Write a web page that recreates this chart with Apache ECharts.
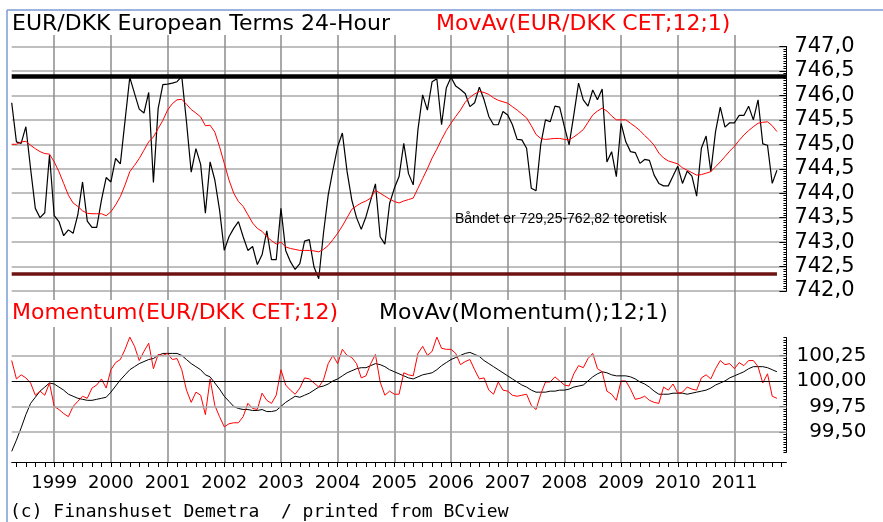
<!DOCTYPE html>
<html>
<head>
<meta charset="utf-8">
<script src="https://cdn.jsdelivr.net/npm/echarts@6.0.0/dist/echarts.min.js"></script>
<style>
  html, body { margin: 0; padding: 0; background: #fff; }
  #chart { width: 883px; height: 522px; }
</style>
</head>
<body>
<div id="chart"></div>
<script>
// monthly closes, Apr 1998 .. Oct 2011
const price = [
  745.85, 745.05, 745.02, 745.36, 744.5, 743.69, 743.5, 743.6, 744.78, 743.54,
  743.42, 743.13, 743.25, 743.18, 743.56, 744.23, 743.43, 743.3, 743.3, 743.86,
  744.32, 744.23, 744.71, 744.6, 745.49, 746.37, 746.04, 745.72, 745.64, 746.06,
  744.22, 745.73, 746.22, 746.23, 746.25, 746.28, 746.39, 745.46, 744.43, 744.91,
  744.59, 743.59, 744.64, 744.27, 743.66, 742.83, 743.11, 743.28, 743.42, 743.11,
  742.83, 742.91, 742.54, 742.74, 743.23, 742.64, 742.64, 743.69, 742.83, 742.6,
  742.44, 742.56, 743.02, 743.05, 742.49, 742.25, 743.18, 743.96, 744.47, 744.95,
  745.23, 744.44, 743.86, 743.5, 743.26, 743.52, 743.86, 744.19, 743.11, 742.96,
  743.79, 744.1, 744.34, 745.02, 744.4, 744.17, 745.3, 746.01, 745.7, 746.28,
  746.34, 745.4, 746.15, 746.37, 746.19, 746.12, 746.04, 745.77, 745.85, 746.17,
  745.91, 745.57, 745.4, 745.4, 745.67, 745.6, 745.4, 745.1, 745.09, 744.92,
  744.1, 744.05, 745.0, 745.5, 745.46, 745.78, 745.76, 745.36, 744.99, 745.6,
  746.25, 745.91, 745.78, 746.11, 745.91, 746.13, 744.64, 744.85, 744.34, 745.43,
  745.05, 744.85, 744.83, 744.61, 744.69, 744.67, 744.37, 744.2, 744.15, 744.15,
  744.35, 744.55, 744.2, 744.45, 744.35, 743.94, 744.92, 745.17, 744.44, 745.26,
  745.76, 745.35, 745.44, 745.44, 745.59, 745.59, 745.78, 745.5, 745.91, 745.01,
  744.98, 744.2, 744.47
];
// MovAv(EUR/DKK CET;12;1)
const priceAvg = [
  745.0, 745.0, 745.05, 745.06, 744.98, 744.91, 744.85, 744.81, 744.8, 744.64,
  744.44, 744.2, 743.96, 743.8, 743.73, 743.64, 743.59, 743.58, 743.58, 743.58,
  743.54, 743.62, 743.76, 743.93, 744.17, 744.44, 744.57, 744.71, 744.88, 745.05,
  745.15, 745.32, 745.49, 745.7, 745.83, 745.91, 745.92, 745.82, 745.71, 745.64,
  745.56, 745.38, 745.39, 745.25, 744.95, 744.61, 744.27, 744.0, 743.83, 743.73,
  743.56, 743.39, 743.28, 743.22, 743.11, 743.03, 742.96, 743.0, 742.9, 742.87,
  742.85, 742.83, 742.83, 742.83, 742.82, 742.8, 742.85, 742.93, 743.05, 743.18,
  743.33, 743.5, 743.67, 743.74, 743.8, 743.84, 743.9, 744.06, 744.0, 743.94,
  743.88, 743.83, 743.8, 743.84, 743.87, 743.9, 744.1, 744.3, 744.5, 744.72,
  744.9, 745.1, 745.28, 745.43, 745.57, 745.7, 745.86, 745.96, 746.03, 746.08,
  746.06, 746.02, 745.95, 745.9, 745.87, 745.84, 745.77, 745.7, 745.62, 745.54,
  745.38, 745.2, 745.12, 745.1, 745.11, 745.12, 745.12, 745.1, 745.09, 745.15,
  745.22, 745.3, 745.45, 745.6, 745.68, 745.74, 745.68, 745.58, 745.5, 745.5,
  745.5, 745.43, 745.36, 745.28, 745.18, 745.09, 744.98, 744.82, 744.72, 744.66,
  744.63, 744.6, 744.52, 744.47, 744.42, 744.37, 744.38, 744.41, 744.44, 744.54,
  744.64, 744.75, 744.86, 744.96, 745.08, 745.19, 745.28, 745.36, 745.43, 745.45,
  745.46, 745.38, 745.26
];
// Momentum(EUR/DKK CET;12)
const momentum = [
  100.2, 100.02, 100.06, 100.03, 99.98, 99.86, 99.9, 99.86, 99.98, 99.75,
  99.72, 99.68, 99.65, 99.75, 99.8, 99.85, 99.83, 99.93, 99.96, 100.02,
  99.93, 100.11, 100.18, 100.21, 100.31, 100.43, 100.34, 100.2, 100.29, 100.37,
  100.12, 100.26, 100.25, 100.27, 100.21, 100.22, 100.11, 99.91, 99.79, 99.89,
  99.86, 99.67, 100.02, 99.76, 99.65, 99.55, 99.58, 99.59, 99.59, 99.65,
  99.78, 99.73, 99.72, 99.88, 99.81, 99.78, 99.86, 100.11, 99.96, 99.91,
  99.87, 99.93, 100.03, 100.02, 99.98, 99.94, 100.01, 100.17, 100.25, 100.17,
  100.31, 100.25, 100.23, 100.17, 100.03, 100.05, 100.17, 100.26, 99.99, 99.86,
  99.9, 99.87, 99.87, 100.08, 100.06, 100.05, 100.27, 100.34, 100.25, 100.29,
  100.43, 100.32, 100.31, 100.31, 100.27, 100.16, 100.19, 100.21, 100.11, 100.02,
  100.03, 99.91, 99.87, 99.99, 99.91, 99.9, 99.86, 99.85, 99.86, 99.87,
  99.76, 99.72, 99.87, 99.99, 99.99, 100.04, 100.0, 99.96, 99.95, 100.07,
  100.15, 100.13, 100.22, 100.27, 100.12, 100.09, 99.9, 99.87, 99.81, 100.0,
  100.0, 99.92, 99.82, 99.83, 99.85, 99.81, 99.79, 99.78, 99.94, 99.91,
  99.97, 99.88, 99.89, 99.94, 99.92, 99.91, 100.03, 100.06, 100.02, 100.12,
  100.2, 100.16, 100.17, 100.12, 100.18, 100.15, 100.2, 100.2, 100.14, 99.98,
  100.07, 99.85, 99.83
];
// MovAv(Momentum();12;1)
const momentumAvg = [
  99.31, 99.42, 99.54, 99.67, 99.78, 99.84, 99.9, 99.94, 99.98, 99.97,
  99.94, 99.91, 99.87, 99.85, 99.83, 99.82, 99.81, 99.81, 99.82, 99.83,
  99.84, 99.89, 99.95, 100.01, 100.06, 100.11, 100.14, 100.17, 100.19, 100.21,
  100.22, 100.25, 100.27, 100.27, 100.27, 100.27, 100.25, 100.21, 100.17, 100.14,
  100.11, 100.06, 100.04, 99.98, 99.92, 99.85, 99.8, 99.75, 99.73, 99.72,
  99.72, 99.71, 99.71, 99.72, 99.7, 99.7, 99.71, 99.75, 99.79, 99.82,
  99.85, 99.84, 99.86, 99.88, 99.91, 99.94, 99.95, 99.97, 100.0, 100.02,
  100.05, 100.08, 100.1, 100.12, 100.13, 100.13, 100.15, 100.17, 100.16, 100.14,
  100.11, 100.09, 100.07, 100.05, 100.03, 100.02, 100.04, 100.06, 100.07, 100.08,
  100.11, 100.15, 100.18, 100.21, 100.23, 100.25, 100.27, 100.28, 100.26, 100.24,
  100.2, 100.17, 100.14, 100.11, 100.08, 100.05, 100.02, 99.99, 99.96, 99.94,
  99.91, 99.89, 99.89, 99.89, 99.9, 99.9, 99.91, 99.91, 99.92, 99.94,
  99.95, 99.96, 100.0, 100.04, 100.07, 100.09, 100.08, 100.06, 100.05, 100.05,
  100.05, 100.04, 100.02, 99.99, 99.97, 99.94, 99.9, 99.87, 99.87, 99.87,
  99.88, 99.88, 99.88, 99.87, 99.88, 99.89, 99.9, 99.91, 99.93, 99.96,
  99.98, 100.0, 100.03, 100.05, 100.07, 100.09, 100.12, 100.14, 100.14, 100.14,
  100.13, 100.11, 100.09
];

const resistanceLevel = 746.39;
const supportLevel = 742.35;
const priceTicks = [742, 747];
const momentumTicks = [99.5, 99.75, 100, 100.25];
const momentumGrid = [99.5, 99.75, 100.25];

// month categories: Apr 1998 and on
const months = [];
for ( let k = 0; k < 165; k++ ) {
	const m = 3 + k;
	months.push( `${ 1998 + Math.floor( m / 12 ) }-${ String( m % 12 + 1 ).padStart( 2, "0" ) }` );
}
const isYear = idx => months[idx] && months[idx].endsWith( "-01" );

const FONT = "DejaVu Sans";
const comma = ( v, d ) => v.toFixed( d ).replace( ".", "," );

const left = 11.7, plotW = 774.7, right = 883 - left - plotW;

const chart = echarts.init( document.getElementById( "chart" ), null, { renderer: "canvas" } );

const hiddenX = grid => ( {
	type: "category", gridIndex: grid, data: months, boundaryGap: false, show: false
} );

chart.setOption( {
	animation: false,
	backgroundColor: "#fff",
	grid: [
		{ left, width: plotW, top: 46.5, height: 244.5 },
		{ left, width: plotW, top: 337.6, height: 114.75 },
		{ left, width: plotW, top: 35, bottom: 60 }
	],
	xAxis: [
		hiddenX( 0 ),
		hiddenX( 1 ),
		{
			type: "category", gridIndex: 2, data: months, boundaryGap: false,
			axisLine: { show: true, lineStyle: { color: "#000", width: 1 } },
			axisTick: { show: true, interval: idx => idx % 2 === 1, length: 5, lineStyle: { color: "#000" } },
			axisLabel: {
				interval: isYear, formatter: v => v.slice( 0, 4 ),
				fontFamily: FONT, fontSize: 18, color: "#000", margin: 12
			},
			splitLine: { show: true, interval: isYear, lineStyle: { color: "#8c8c8c", width: 1.5 } }
		}
	],
	yAxis: [
		{
			type: "value", gridIndex: 0, position: "right", min: priceTicks[0], max: priceTicks[1], interval: 0.05,
			axisLine: { show: true, lineStyle: { color: "#000" } },
			axisTick: { show: true, inside: true, length: 3, lineStyle: { color: "#000" } },
			axisLabel: { show: false }, splitLine: { show: false }
		},
		{
			type: "value", gridIndex: 0, position: "right", min: priceTicks[0], max: priceTicks[1], interval: 0.5,
			axisLine: { show: false },
			axisTick: { show: true, inside: true, length: 7, lineStyle: { color: "#000" } },
			axisLabel: { formatter: v => comma( v, 1 ), fontFamily: FONT, fontSize: 21, color: "#000", margin: 8 },
			splitLine: { show: true, lineStyle: { color: "#aaaaaa", width: 1.5 } }
		},
		{
			type: "value", gridIndex: 1, position: "right", min: 99.3, max: 100.425, interval: 0.025,
			axisLine: { show: true, lineStyle: { color: "#000" } },
			axisTick: { show: true, inside: true, length: 3, lineStyle: { color: "#000" } },
			axisLabel: { show: false }, splitLine: { show: false }
		},
		{
			type: "value", gridIndex: 1, position: "right", min: 99.3, max: 100.425,
			axisLine: { show: false },
			axisTick: { show: true, inside: true, length: 7, customValues: momentumTicks, lineStyle: { color: "#000" } },
			axisLabel: {
				customValues: momentumTicks, formatter: v => comma( v, 2 ),
				fontFamily: FONT, fontSize: 20, color: "#000", align: "right", margin: 80
			},
			splitLine: { show: false }
		},
		{ type: "value", gridIndex: 2, show: false, min: 0, max: 1 }
	],
	series: [
		{
			name: "EUR/DKK", type: "line", xAxisIndex: 0, yAxisIndex: 0, data: price,
			symbol: "none", lineStyle: { color: "#000", width: 1.2 }, z: 3,
			markLine: {
				silent: true, symbol: "none", label: { show: false },
				data: [
					[ { coord: [ months[0], resistanceLevel ] }, { coord: [ months[164], resistanceLevel ] } ],
					[ { coord: [ months[0], supportLevel ] }, { coord: [ months[162], supportLevel ] } ]
				].map( ( d, i ) => d.map( p => ( {
					...p,
					lineStyle: i === 0
						? { color: "#000", width: 4.5, type: "solid" }
						: { color: "#6e1212", width: 3.5, type: "solid" }
				} ) ) )
			}
		},
		{
			name: "MovAv", type: "line", xAxisIndex: 0, yAxisIndex: 0, data: priceAvg,
			symbol: "none", lineStyle: { color: "#ff0000", width: 1 }, z: 4
		},
		{
			name: "Momentum", type: "line", xAxisIndex: 1, yAxisIndex: 2, data: momentum,
			symbol: "none", lineStyle: { color: "#ff0000", width: 1 }, z: 4,
			markLine: {
				silent: true, symbol: "none", label: { show: false },
				data: [
					...momentumGrid.map( v => ( { yAxis: v, lineStyle: { color: "#aaaaaa", width: 1.5, type: "solid" } } ) ),
					{ yAxis: 100, lineStyle: { color: "#000", width: 1, type: "solid" } }
				]
			}
		},
		{
			name: "MovAv Momentum", type: "line", xAxisIndex: 1, yAxisIndex: 2, data: momentumAvg,
			symbol: "none", lineStyle: { color: "#000", width: 1 }, z: 3
		}
	],
	graphic: [
		{ type: "line", shape: { x1: 7, y1: 10, x2: 883, y2: 10 }, style: { stroke: "#7a9cd3", lineWidth: 1.5 }, z: 20 },
		{ type: "line", shape: { x1: 7, y1: 10, x2: 7, y2: 522 }, style: { stroke: "#7a9cd3", lineWidth: 1.5 }, z: 20 },
		{ type: "rect", shape: { x: 8, y: 300, width: 656, height: 27 }, style: { fill: "#fff" }, z: 10 },
		{ type: "text", x: 12, y: 24, z: 21, style: { text: "EUR/DKK European Terms 24-Hour", font: `22px "${ FONT }"`, fill: "#000", verticalAlign: "middle" } },
		{ type: "text", x: 436, y: 24, z: 21, style: { text: "MovAv(EUR/DKK CET;12;1)", font: `22px "${ FONT }"`, fill: "#ff0000", verticalAlign: "middle" } },
		{ type: "text", x: 12, y: 313, z: 21, style: { text: "Momentum(EUR/DKK CET;12)", font: `22px "${ FONT }"`, fill: "#ff0000", verticalAlign: "middle" } },
		{ type: "text", x: 379, y: 313, z: 21, style: { text: "MovAv(Momentum();12;1)", font: `22px "${ FONT }"`, fill: "#000", verticalAlign: "middle" } },
		{ type: "text", x: 455, y: 219, z: 21, style: { text: "Båndet er 729,25-762,82 teoretisk", font: '14px "Liberation Sans"', fill: "#000", verticalAlign: "middle" } },
		{ type: "text", x: 10, y: 512, z: 21, style: { text: "(c) Finanshuset Demetra  / printed from BCview", font: '18px "DejaVu Sans Mono"', fill: "#000", verticalAlign: "middle" } }
	]
} );
</script>
</body>
</html>
